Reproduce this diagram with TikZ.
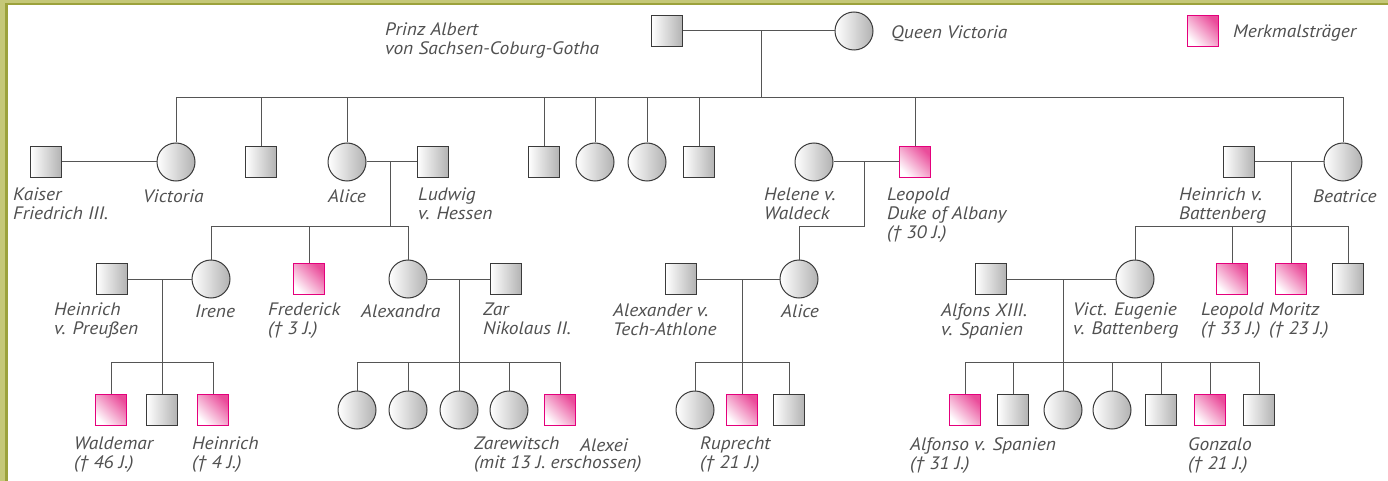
\documentclass[tikz,border=0pt]{standalone}
\usepackage{fontspec}
\setmainfont{PT Sans}
\newfontfamily\lblfont{PT Sans}[FakeStretch=1.08]
\definecolor{olivelight}{HTML}{C5C878}
\definecolor{olivedark}{HTML}{9CA23C}
\definecolor{textgray}{HTML}{505050}
\definecolor{linegray}{HTML}{555555}
\definecolor{edgegray}{HTML}{3A3A3A}
\definecolor{shadegray}{HTML}{B2B2B2}
\definecolor{carrieredge}{HTML}{E4007C}
\definecolor{carrierfill}{HTML}{EA4C9A}

\tikzset{
  male/.style={rectangle, draw=edgegray, line width=1pt, minimum size=31pt, inner sep=0pt,
    left color=white, right color=shadegray},
  female/.style={circle, draw=edgegray, line width=1pt, minimum size=38pt, inner sep=0pt,
    left color=white, right color=shadegray},
  carrierbox/.style={rectangle, draw=carrieredge, line width=1pt, minimum size=31pt, inner sep=0pt,
    bottom color=white, top color=carrierfill, shading angle=-45},
  famline/.style={draw=linegray, line width=1pt},
  lbl/.style={anchor=north west, inner sep=0pt, align=left, text=textgray,
    font=\lblfont\itshape\fontsize{18}{19}\selectfont,
    execute at begin node={\rule{0pt}{14pt}}},
}

\begin{document}
\begin{tikzpicture}[x=1pt, y=-1pt]
\useasboundingbox (0,0) rectangle (1388,481);

% frame
\fill[olivelight] (0,0) rectangle (5,481);
\fill[olivelight] (0,0) rectangle (1388,3);
\fill[olivedark] (5,3) rectangle (1388,5);
\fill[olivedark] (5,3) rectangle (8,481);

% ---------- generation 1
\node[male]   (albert) at (667,31) {};
\node[female] (queen)  at (854,31) {};
\node[lbl] (albertL) at (385,23) {Prinz Albert\\von Sachsen-Coburg-Gotha};
\node[lbl] (queenL)  at (891,24) {Queen Victoria};

% legend
\node[carrierbox] (legend) at (1203,31) {};
\node[lbl] (legendL) at (1233,23) {Merkmalsträger};

% ---------- generation 2
\node[male]       (kaiser)  at (46,162)  {};
\node[female]     (vicky)   at (176,162) {};
\node[male]       (son1)    at (261,162) {};
\node[female]     (alice)   at (347,162) {};
\node[male]       (ludwig)  at (433,162) {};
\node[male]       (son2)    at (544,162) {};
\node[female]     (dau1)    at (595,162) {};
\node[female]     (dau2)    at (647,162) {};
\node[male]       (son3)    at (699,162) {};
\node[female]     (helene)  at (814,162) {};
\node[carrierbox] (leopold) at (915,162) {};
\node[male]       (heinrB)  at (1239,162) {};
\node[female]     (beatrice) at (1343,162) {};

\node[lbl] at (13,188)   {Kaiser\\Friedrich III.};
\node[lbl] at (143,188)  {Victoria};
\node[lbl] at (328,188)  {Alice};
\node[lbl] at (418,188)  {Ludwig\\v. Hessen};
\node[lbl] at (764,188)  {Helene v.\\Waldeck};
\node[lbl] at (887,188)  {Leopold\\Duke of Albany\\(† 30 J.)};
\node[lbl] at (1179,188) {Heinrich v.\\Battenberg};
\node[lbl] at (1313,188) {Beatrice};

% ---------- generation 3
\node[male]       (heinrP)    at (112,279) {};
\node[female]     (irene)     at (211,279) {};
\node[carrierbox] (frederick) at (309,279) {};
\node[female]     (alexandra) at (408,279) {};
\node[male]       (zar)       at (506,279) {};
\node[male]       (alexander) at (681,279) {};
\node[female]     (aliceA)    at (799,279) {};
\node[male]       (alfons)    at (991,279) {};
\node[female]     (eugenie)   at (1135,279) {};
\node[carrierbox] (leopoldB)  at (1232,279) {};
\node[carrierbox] (moritz)    at (1291,279) {};
\node[male]       (sonB)      at (1348,279) {};

\node[lbl] at (54,303)   {Heinrich\\v. Preußen};
\node[lbl] at (195,303)  {Irene};
\node[lbl] at (268,303)  {Frederick\\(† 3 J.)};
\node[lbl] at (361,303)  {Alexandra};
\node[lbl] at (483,303)  {Zar\\Nikolaus II.};
\node[lbl] at (613,303)  {Alexander v.\\Tech-Athlone};
\node[lbl] at (781,303)  {Alice};
\node[lbl] at (941,303)  {Alfons XIII.\\v. Spanien};
\node[lbl] at (1073,303) {Vict. Eugenie\\v. Battenberg};
\node[lbl] at (1201,303) {Leopold\\(† 33 J.)};
\node[lbl] at (1269,303) {Moritz\\(† 23 J.)};

% ---------- generation 4
\node[carrierbox] (waldemar) at (111,410) {};
\node[male]       (sigis)    at (162,410) {};
\node[carrierbox] (heinrC)   at (213,410) {};

\node[female]     (olga)     at (357,410) {};
\node[female]     (tatjana)  at (408,410) {};
\node[female]     (maria)    at (459,410) {};
\node[female]     (anastasia) at (509,410) {};
\node[carrierbox] (alexei)   at (560,410) {};

\node[female]     (may)      at (695,410) {};
\node[carrierbox] (ruprecht) at (742,410) {};
\node[male]       (maurice)  at (789,410) {};

\node[carrierbox] (alfonso)  at (965,410) {};
\node[male]       (jaime)    at (1013,410) {};
\node[female]     (beatriz)  at (1063,410) {};
\node[female]     (fernanda) at (1112,410) {};
\node[male]       (juan)     at (1161,410) {};
\node[carrierbox] (gonzalo)  at (1210,410) {};
\node[male]       (sonS)     at (1259,410) {};

\node[lbl] at (74,437)   {Waldemar\\(† 46 J.)};
\node[lbl] at (192,437)  {Heinrich\\(† 4 J.)};
\node[lbl] at (474,437)  {Zarewitsch\\(mit 13 J. erschossen)};
\node[lbl] at (580,437)  {Alexei};
\node[lbl] at (700,437)  {Ruprecht\\(† 21 J.)};
\node[lbl] at (910,437)  {Alfonso v. Spanien\\(† 31 J.)};
\node[lbl] at (1188,437) {Gonzalo\\(† 21 J.)};

% ---------- connectors
% Albert and Victoria
\coordinate (j1) at (761,31);
\coordinate (b1) at (761,98);
\draw[famline] (albert) -- (queen);
\draw[famline] (j1) -- (b1);
\foreach \c in {vicky,son1,alice,son2,dau1,dau2,son3,leopold,beatrice}
  \draw[famline] (\c.north) |- (b1);

% Friedrich and Victoria
\draw[famline] (kaiser) -- (vicky);

% Ludwig and Alice
\coordinate (j2) at (390,162);
\coordinate (b2) at (390,226);
\draw[famline] (alice) -- (ludwig);
\draw[famline] (j2) -- (b2);
\foreach \c in {irene,frederick,alexandra}
  \draw[famline] (\c.north) |- (b2);

% Leopold and Helene
\coordinate (j3) at (864,162);
\coordinate (b3) at (864,226);
\draw[famline] (helene) -- (leopold);
\draw[famline] (j3) -- (b3) -| (aliceA.north);

% Heinrich and Beatrice
\coordinate (j4) at (1291,162);
\coordinate (b4) at (1291,226);
\draw[famline] (heinrB) -- (beatrice);
\draw[famline] (j4) -- (b4);
\foreach \c in {eugenie,leopoldB,moritz,sonB}
  \draw[famline] (\c.north) |- (b4);

% Heinrich and Irene
\coordinate (j5) at (162,279);
\coordinate (b5) at (162,362);
\draw[famline] (heinrP) -- (irene);
\draw[famline] (j5) -- (b5);
\foreach \c in {waldemar,sigis,heinrC}
  \draw[famline] (\c.north) |- (b5);

% Nikolaus and Alexandra
\coordinate (j6) at (459,279);
\coordinate (b6) at (459,362);
\draw[famline] (alexandra) -- (zar);
\draw[famline] (j6) -- (b6);
\foreach \c in {olga,tatjana,maria,anastasia,alexei}
  \draw[famline] (\c.north) |- (b6);

% Alexander and Alice
\coordinate (j7) at (742,279);
\coordinate (b7) at (742,362);
\draw[famline] (alexander) -- (aliceA);
\draw[famline] (j7) -- (b7);
\foreach \c in {may,ruprecht,maurice}
  \draw[famline] (\c.north) |- (b7);

% Alfons and Victoria Eugenie
\coordinate (j8) at (1063,279);
\coordinate (b8) at (1063,362);
\draw[famline] (alfons) -- (eugenie);
\draw[famline] (j8) -- (b8);
\foreach \c in {alfonso,jaime,beatriz,fernanda,juan,gonzalo,sonS}
  \draw[famline] (\c.north) |- (b8);
\end{tikzpicture}
\end{document}
